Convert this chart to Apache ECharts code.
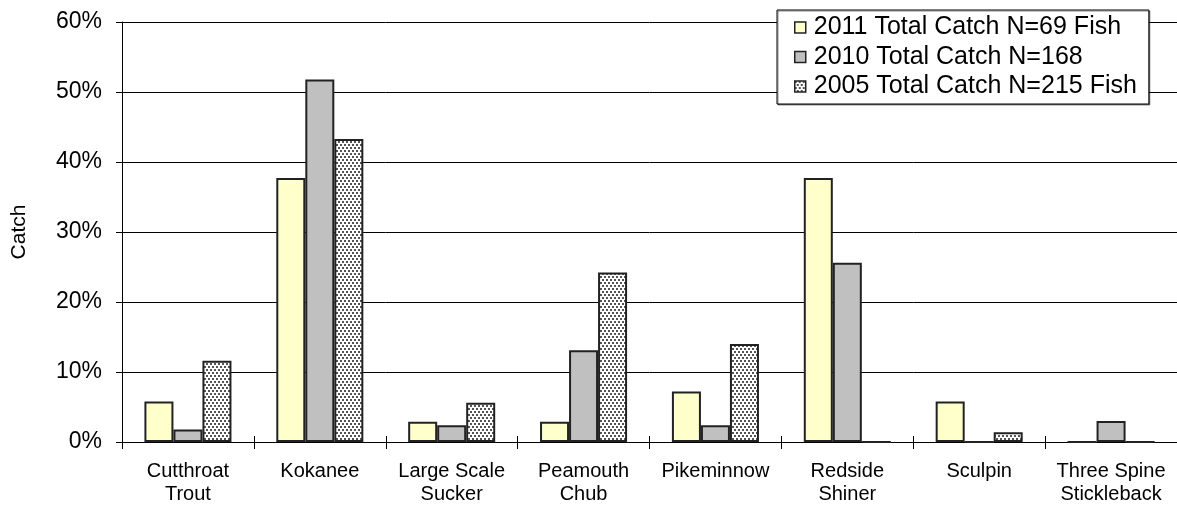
<!DOCTYPE html>
<html>
<head>
<meta charset="utf-8">
<script src="https://cdn.jsdelivr.net/npm/echarts@6/dist/echarts.min.js"></script>
<style>
  html, body { margin: 0; padding: 0; background: #fff; }
  #chart { width: 1177px; height: 508px; }
</style>
</head>
<body>
<div id="chart"></div>
<script>
// Species groups on the x axis
const categories = [
  'Cutthroat\nTrout', 'Kokanee', 'Large Scale\nSucker', 'Peamouth\nChub',
  'Pikeminnow', 'Redside\nShiner', 'Sculpin', 'Three Spine\nStickleback'
];

// Share of total catch per species (%)
const catch2011 = [5.8, 37.7, 2.9, 2.9, 7.2, 37.7, 5.8, 0];
const catch2010 = [1.8, 51.8, 2.4, 13.1, 2.4, 25.6, 0, 3.0];
const catch2005 = [11.6, 43.3, 5.6, 24.2, 14.0, 0, 1.4, 0];

const seriesNames = [
  '2011 Total Catch N=69 Fish',
  '2010 Total Catch N=168',
  '2005 Total Catch N=215 Fish'
];

const yTicks = { min: 0, max: 60, interval: 10 };

// Stippled fill for the 2005 bars
function dotPattern() {
  const c = document.createElement('canvas');
  c.width = 4; c.height = 6;
  const g = c.getContext('2d');
  g.fillStyle = '#ffffff';
  g.fillRect(0, 0, 4, 6);
  g.fillStyle = '#555555';
  g.fillRect(0, 0, 2, 2);
  g.fillRect(2, 3, 2, 2);
  return c;
}

const FONT = '"Liberation Sans", Arial, sans-serif';
const barBorder = { borderColor: '#222', borderWidth: 2 };

const chart = echarts.init(document.getElementById('chart'), null, { renderer: 'canvas' });

chart.setOption({
  animation: false,
  backgroundColor: '#ffffff',
  textStyle: { fontFamily: FONT, color: '#000' },
  grid: { left: 122, right: 0, top: 22, bottom: 66, containLabel: false },
  legend: {
    orient: 'vertical',
    left: 777,
    top: 10,
    data: seriesNames,
    icon: 'rect',
    itemWidth: 11,
    itemHeight: 11,
    itemGap: 4.5,
    padding: [5, 12, 5, 17],
    backgroundColor: '#ffffff',
    borderColor: '#000',
    borderWidth: 1,
    shadowColor: 'rgba(0,0,0,0.45)',
    shadowOffsetX: 1,
    shadowOffsetY: 1,
    shadowBlur: 0,
    itemStyle: { borderWidth: 1.5 },
    textStyle: { fontFamily: FONT, fontSize: 25, lineHeight: 24, color: '#000', padding: [0, 0, 0, 3] }
  },
  xAxis: [{
    type: 'category',
    data: categories,
    axisLine: { lineStyle: { color: '#000', width: 1 } },
    axisTick: { show: true, length: 7, lineStyle: { color: '#000' } },
    axisLabel: { fontFamily: FONT, fontSize: 20, lineHeight: 23, color: '#000', margin: 18, interval: 0 }
  }, {
    // inner half of the crossing tick marks
    type: 'category',
    data: categories,
    position: 'bottom',
    axisLine: { show: false },
    axisTick: { show: true, inside: true, length: 6, lineStyle: { color: '#000' } },
    axisLabel: { show: false }
  }],
  yAxis: [{
    type: 'value',
    min: yTicks.min,
    max: yTicks.max,
    interval: yTicks.interval,
    name: 'Catch',
    nameLocation: 'middle',
    nameGap: 92,
    nameTextStyle: { fontFamily: FONT, fontSize: 21, color: '#000' },
    axisLine: { show: true, lineStyle: { color: '#000', width: 1 } },
    axisTick: { show: true, length: 6, lineStyle: { color: '#000' } },
    axisLabel: { fontFamily: FONT, fontSize: 23, color: '#000', margin: 20, formatter: '{value}%' },
    splitLine: { show: true, lineStyle: { color: '#000', width: 1 } }
  }, {
    type: 'value',
    position: 'left',
    min: yTicks.min,
    max: yTicks.max,
    interval: yTicks.interval,
    axisLine: { show: false },
    axisTick: { show: true, inside: true, length: 6, lineStyle: { color: '#000' } },
    axisLabel: { show: false },
    splitLine: { show: false }
  }],
  series: [
    {
      name: seriesNames[0], type: 'bar', data: catch2011,
      barGap: '0%', barCategoryGap: '34%',
      itemStyle: Object.assign({ color: '#ffffcc' }, barBorder)
    },
    {
      name: seriesNames[1], type: 'bar', data: catch2010,
      barGap: '0%', barCategoryGap: '34%',
      itemStyle: Object.assign({ color: '#c0c0c0' }, barBorder)
    },
    {
      name: seriesNames[2], type: 'bar', data: catch2005,
      barGap: '0%', barCategoryGap: '34%',
      itemStyle: Object.assign({ color: { image: dotPattern(), repeat: 'repeat' } }, barBorder)
    }
  ]
});
</script>
</body>
</html>
